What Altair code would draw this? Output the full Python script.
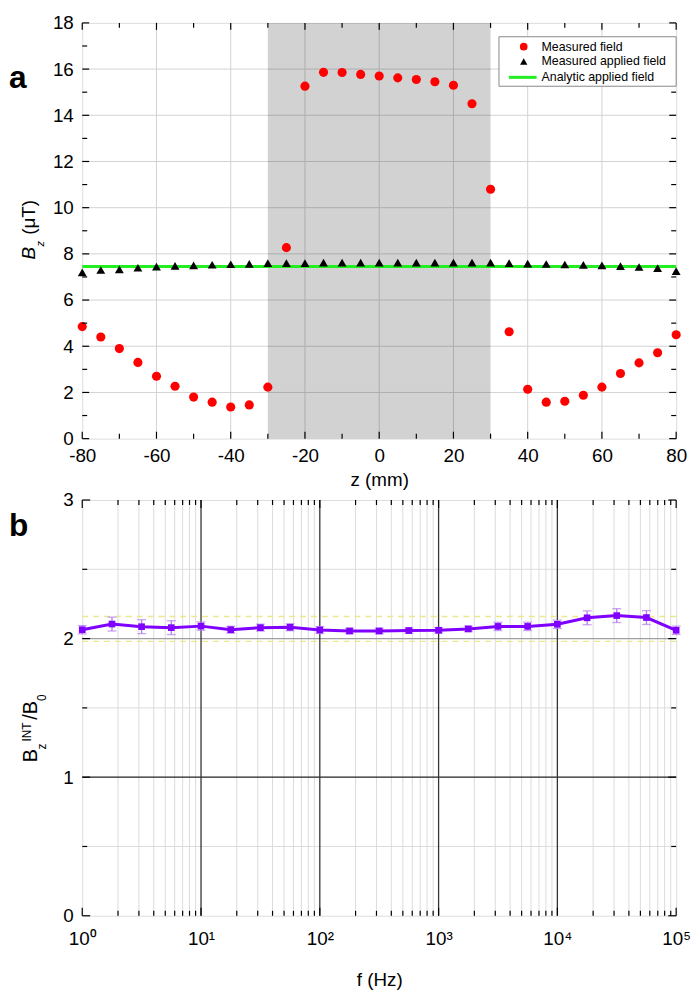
import altair as alt
import pandas as pd

# ---------------- Panel a data ----------------
z_mm = [-80, -75, -70, -65, -60, -55, -50, -45, -40, -35, -30, -25, -20, -15, -10, -5,
        0, 5, 10, 15, 20, 25, 30, 35, 40, 45, 50, 55, 60, 65, 70, 75, 80]
measured_field = [4.85, 4.4, 3.9, 3.3, 2.7, 2.27, 1.8, 1.58, 1.37, 1.46, 2.23, 8.27, 15.26,
                  15.86, 15.85, 15.77, 15.7, 15.62, 15.55, 15.45, 15.3, 14.5, 10.8, 4.63,
                  2.14, 1.58, 1.62, 1.88, 2.23, 2.82, 3.28, 3.72, 4.5]
applied_field = [7.2, 7.3, 7.33, 7.4, 7.45, 7.48, 7.5, 7.53, 7.55, 7.57, 7.6, 7.6, 7.6, 7.62,
                 7.62, 7.62, 7.62, 7.62, 7.62, 7.62, 7.62, 7.62, 7.62, 7.6, 7.58, 7.56, 7.54,
                 7.52, 7.5, 7.47, 7.43, 7.38, 7.25]
analytic_z = [-80, 80]
analytic_field = [7.45, 7.45]
coil_region = [-30, 30]

z_major = [-80, -60, -40, -20, 0, 20, 40, 60, 80]
z_minor = [-70, -50, -30, -10, 10, 30, 50, 70]
z_grid = [-60, -40, -20, 0, 20, 40, 60]
bz_major = [0, 2, 4, 6, 8, 10, 12, 14, 16, 18]
bz_minor = [1, 3, 5, 7, 9, 11, 13, 15, 17]
bz_grid = [2, 4, 6, 8, 10, 12, 14, 16]

# ---------------- Panel b data ----------------
freq_hz = [1, 1.78, 3.16, 5.62, 10, 17.8, 31.6, 56.2, 100, 178, 316, 562, 1000,
           1780, 3160, 5620, 10000, 17800, 31600, 56200, 100000]
ratio = [2.064, 2.105, 2.086, 2.079, 2.09, 2.064, 2.079, 2.082, 2.062, 2.055, 2.055,
         2.058, 2.06, 2.07, 2.088, 2.088, 2.103, 2.15, 2.166, 2.152, 2.06]
ratio_err = [0.03, 0.05, 0.05, 0.05, 0.03, 0.025, 0.025, 0.025, 0.025, 0.02, 0.02,
             0.02, 0.02, 0.02, 0.03, 0.03, 0.03, 0.05, 0.05, 0.05, 0.03]
f_decades = [1, 10, 100, 1000, 10000, 100000]
f_minor = [m * d for d in [1, 10, 100, 1000, 10000] for m in [2, 3, 4, 5, 6, 7, 8, 9]]
ratio_major = [0, 1, 2, 3]
ratio_minor = [0.5, 1.5, 2.5]
band_lines = [2.16, 1.98]

W, H = 600, 420
FONT = "Liberation Sans"
one = pd.DataFrame({"k": [0]})


def text(t, x, y, size=19, angle=0, weight="normal", style="normal", align="left",
         baseline="alphabetic"):
    return alt.Chart(one).mark_text(
        text=t, fontSize=size, font=FONT, angle=angle, fontWeight=weight,
        fontStyle=style, align=align, baseline=baseline, color="black"
    ).encode(x=alt.value(x), y=alt.value(y))


# ================= Panel a =================
xs_a = alt.Scale(domain=[-80, 80], nice=False, zero=False)
ys_a = alt.Scale(domain=[0, 18], nice=False, zero=False)

xaxis_a = alt.Axis(values=z_major, title="z (mm)", grid=False, domain=False, ticks=False,
                   labelFontSize=19, labelPadding=8, titleFontSize=19,
                   titleFontWeight="normal", titlePadding=5, labelFlush=False,
                   labelOverlap=False, labelExpr="'' + datum.value", labelFont=FONT,
                   titleFont=FONT, labelColor="black", titleColor="black")
yaxis_a = alt.Axis(values=bz_major, title="", grid=False, domain=False, ticks=False,
                   labelFontSize=19, labelPadding=9, labelOverlap=False,
                   labelExpr="'' + datum.value", labelFont=FONT, labelColor="black")


def XA(f):
    return alt.X(f, type="quantitative", scale=xs_a, axis=xaxis_a)


def YA(f):
    return alt.Y(f, type="quantitative", scale=ys_a, axis=yaxis_a)


def vrules(vals, X, y0, y1, color="black", width=1.2, dash=None):
    kw = dict(color=color, strokeWidth=width)
    if dash:
        kw["strokeDash"] = dash
    return alt.Chart(pd.DataFrame({"v": vals})).mark_rule(**kw).encode(
        x=X("v"), y=alt.value(y0), y2=alt.value(y1))


def hrules(vals, Y, x0, x1, color="black", width=1.2, dash=None):
    kw = dict(color=color, strokeWidth=width)
    if dash:
        kw["strokeDash"] = dash
    return alt.Chart(pd.DataFrame({"v": vals})).mark_rule(**kw).encode(
        y=Y("v"), x=alt.value(x0), x2=alt.value(x1))


dfa = pd.DataFrame({"z": z_mm, "measured": measured_field, "applied": applied_field})
dfl = pd.DataFrame({"z": analytic_z, "f": analytic_field})
dfs = pd.DataFrame({"z0": [coil_region[0]], "z1": [coil_region[1]]})

points_red = alt.Chart(dfa).mark_circle(color="#ff0000", size=85, opacity=1).encode(
    x=XA("z"), y=YA("measured"))
points_tri = alt.Chart(dfa).mark_point(shape="triangle-up", filled=True, color="black",
                                       size=80, opacity=1).encode(x=XA("z"), y=YA("applied"))
line_green = alt.Chart(dfl).mark_line(color="#22ee22", strokeWidth=3).encode(
    x=XA("z"), y=YA("f"))
shade = alt.Chart(dfs).mark_rect(color="black", opacity=0.175).encode(
    x=XA("z0"), x2="z1:Q", y=alt.value(0), y2=alt.value(H))

grid_a = [vrules(z_grid, XA, 0, H, color="#d2d2d2", width=1),
          hrules(bz_grid, YA, 0, W, color="#d2d2d2", width=1)]
ticks_a = [vrules(z_major, XA, H, H - 7), vrules(z_minor, XA, H, H - 5),
           vrules(z_major, XA, 0, 7), vrules(z_minor, XA, 0, 5),
           hrules(bz_major, YA, 0, 7), hrules(bz_minor, YA, 0, 5),
           hrules(bz_major, YA, W, W - 7), hrules(bz_minor, YA, W, W - 5)]

# legend
LX = 421
leg_box = alt.Chart(one).mark_rect(fill="white", stroke="#888888", strokeWidth=1).encode(
    x=alt.value(LX), x2=alt.value(LX + 179), y=alt.value(14), y2=alt.value(64))
leg_c = alt.Chart(one).mark_circle(color="#ff0000", size=60, opacity=1).encode(
    x=alt.value(LX + 25), y=alt.value(24))
leg_t = alt.Chart(one).mark_point(shape="triangle-up", filled=True, color="black",
                                  size=55, opacity=1).encode(x=alt.value(LX + 25), y=alt.value(39))
leg_l = alt.Chart(one).mark_rule(color="#22ee22", strokeWidth=3).encode(
    x=alt.value(LX + 10), x2=alt.value(LX + 38), y=alt.value(55))
leg_txt = [text("Measured field", LX + 43, 24, size=12.5, baseline="middle"),
           text("Measured applied field", LX + 43, 39, size=12.5, baseline="middle"),
           text("Analytic applied field", LX + 43, 55, size=12.5, baseline="middle")]

titles_a = [text("a", -74, 66, size=32, weight="bold"),
            text("B", -48, 239, angle=270, style="italic"),
            text("z", -39, 226, size=11, angle=270, style="italic"),
            text("(μT)", -48, 214, angle=270)]

panel_a = alt.layer(*grid_a, shade, line_green, points_tri, points_red, *ticks_a,
                    leg_box, leg_c, leg_t, leg_l, *leg_txt, *titles_a).properties(
    width=W, height=H)

# ================= Panel b =================
xs_b = alt.Scale(type="log", domain=[1, 100000], nice=False)
ys_b = alt.Scale(domain=[0, 3], nice=False, zero=False)

sup_expr = ("datum.value == 1 ? '10⁰' : datum.value == 10 ? '10¹' : datum.value == 100 ? '10²' : "
            "datum.value == 1000 ? '10³' : datum.value == 10000 ? '10⁴' : '10⁵'")
xaxis_b = alt.Axis(values=f_decades, title="f (Hz)", grid=False, domain=False, ticks=False,
                   labelFontSize=19, labelPadding=14, titleFontSize=19,
                   titleFontWeight="normal", titlePadding=22, labelFlush=False,
                   labelOverlap=False, labelExpr=sup_expr, labelFont=FONT, titleFont=FONT,
                   labelColor="black", titleColor="black")
yaxis_b = alt.Axis(values=ratio_major, title="", grid=False, domain=False, ticks=False,
                   labelFontSize=19, labelPadding=9, labelOverlap=False, labelFont=FONT,
                   labelColor="black")


def XB(f):
    return alt.X(f, type="quantitative", scale=xs_b, axis=xaxis_b)


def YB(f):
    return alt.Y(f, type="quantitative", scale=ys_b, axis=yaxis_b)


dfb = pd.DataFrame({"f": freq_hz, "r": ratio})
dfb["lo"] = [r - e for r, e in zip(ratio, ratio_err)]
dfb["hi"] = [r + e for r, e in zip(ratio, ratio_err)]

grid_b = [vrules(f_minor, XB, 0, H, color="#dcdcdc", width=1),
          hrules(ratio_minor, YB, 0, W, color="#dcdcdc", width=1),
          hrules([2], YB, 0, W, color="#a0a0a0", width=1.2),
          hrules([1], YB, 0, W, color="#222222", width=1.3),
          vrules(f_decades[1:-1], XB, 0, H, color="#333333", width=1.3),
          hrules(band_lines, YB, 0, W, color="#ece890", width=1.5, dash=[6, 5])]

err_bars = alt.Chart(dfb).mark_rule(color="#b27cf0", strokeWidth=1.3).encode(
    x=XB("f"), y=YB("lo"), y2="hi:Q")
cap_lo = alt.Chart(dfb).mark_tick(color="#b27cf0", thickness=1.3, size=9,
                                  orient="horizontal").encode(x=XB("f"), y=YB("lo"))
cap_hi = alt.Chart(dfb).mark_tick(color="#b27cf0", thickness=1.3, size=9,
                                  orient="horizontal").encode(x=XB("f"), y=YB("hi"))
line_b = alt.Chart(dfb).mark_line(color="#8000ff", strokeWidth=3).encode(
    x=XB("f"), y=YB("r"))
sq_b = alt.Chart(dfb).mark_square(color="#8000ff", size=45, opacity=1).encode(
    x=XB("f"), y=YB("r"))

ticks_b = [vrules(f_decades, XB, H, H - 8), vrules(f_minor, XB, H, H - 5),
           vrules(f_decades, XB, 0, 8), vrules(f_minor, XB, 0, 5),
           hrules(ratio_major, YB, 0, 8), hrules(ratio_minor, YB, 0, 5),
           hrules(ratio_major, YB, W, W - 8), hrules(ratio_minor, YB, W, W - 5)]

titles_b = [text("b", -74, 36, size=32, weight="bold"),
            text("B", -46, 265, size=20, angle=270),
            text("z", -37, 252, size=12, angle=270),
            text("INT", -52, 244, size=12, angle=270),
            text("/B", -46, 222, size=20, angle=270),
            text("0", -37, 203, size=12, angle=270)]

panel_b = alt.layer(*grid_b, err_bars, cap_lo, cap_hi, line_b, sq_b, *ticks_b,
                    *titles_b).properties(width=W, height=H)

chart = alt.vconcat(panel_a, panel_b, spacing=0).configure_view(
    stroke="black", strokeWidth=1.5).configure(font=FONT, padding=0)

chart.save("out.html", embed_options={"renderer": "svg", "actions": False})
